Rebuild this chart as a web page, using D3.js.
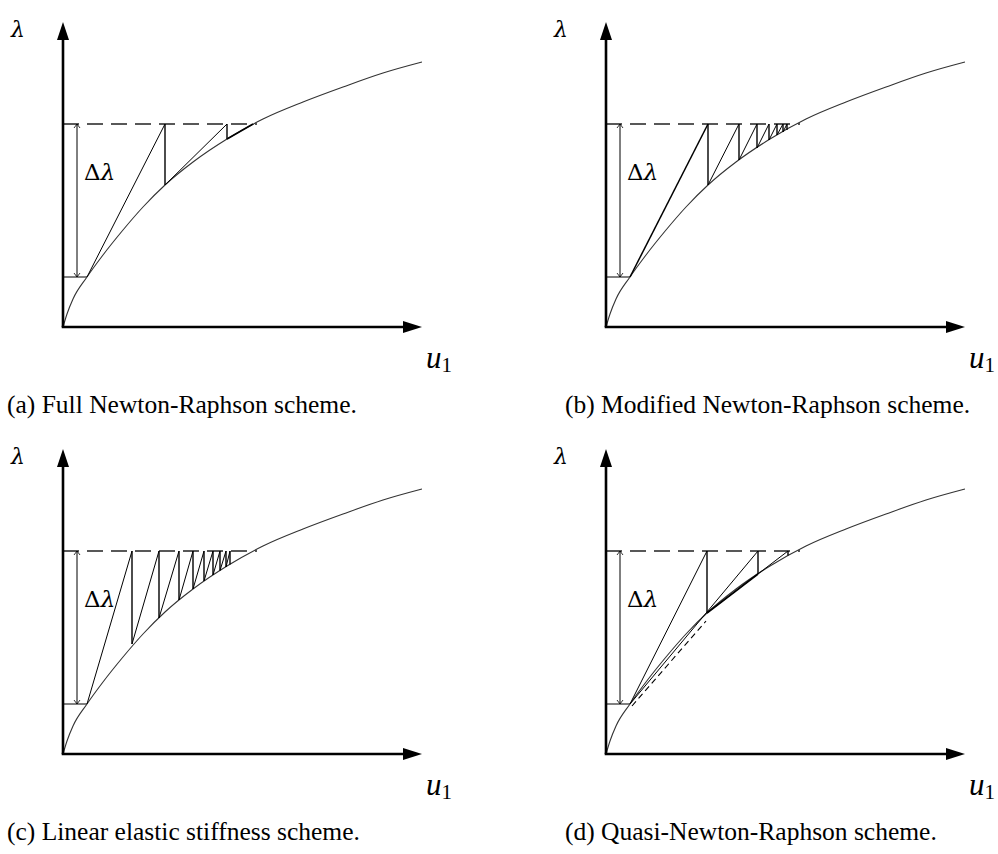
<!DOCTYPE html>
<html>
<head>
<meta charset="utf-8">
<script src="https://cdn.jsdelivr.net/npm/d3@7"></script>
<style>
  body { margin: 0; background: #fff; }
  text { font-family: "Liberation Serif", "Times New Roman", serif; fill: #000; }
  .greek { font-family: "DejaVu Serif", serif; }
</style>
</head>
<body>
<div id="fig"></div>
<script>
// load-displacement curve, sampled off the figure (u1, lambda)
var curveU = [0, 4, 10, 24, 40, 60, 80, 102, 130, 164, 200, 240, 280, 320, 359];
var curveL = [0, 13, 28, 50, 72, 97, 120, 142, 165, 188, 208, 225, 240, 254, 265];

// load levels: start of step and target (dashed)
var levelLow = 50;
var levelHigh = 203;
var levelHighU = 194;   // where the dashed level meets the curve

// iterates on the curve for each scheme
var fullU = [24, 102, 164, 190];
var fullL = [50, 142, 188, 202.5];

var modU = [24, 102, 133, 151, 163, 171, 177, 181];
var modL = [50, 142, 167, 179, 187, 192, 195, 197];

var linU = [24, 69, 96, 116, 130, 141, 150, 157, 163, 167];
var linL = [50, 110, 136, 154, 165, 173, 179, 183.5, 187, 189.5];

var quasiU = [24, 101, 152, 182];
var quasiL = [50, 141, 180, 198.5];
var quasiDashU = [26, 100];
var quasiDashL = [48, 133];

var captions = [
  '(a) Full Newton-Raphson scheme.',
  '(b) Modified Newton-Raphson scheme.',
  '(c) Linear elastic stiffness scheme.',
  '(d) Quasi-Newton-Raphson scheme.'
];

var W = 998, H = 854;
var svg = d3.select('#fig').append('svg').attr('width', W).attr('height', H);

var panels = [
  { ox: 63,  oy: 327, capX: 7,   capY: 413, type: 'full' },
  { ox: 606, oy: 327, capX: 565, capY: 413, type: 'mod' },
  { ox: 63,  oy: 754, capX: 7,   capY: 840, type: 'lin' },
  { ox: 606, oy: 754, capX: 565, capY: 840, type: 'quasi' }
];

panels.forEach(function (p, i) {
  var g = svg.append('g');
  var x = d3.scaleLinear().domain([0, 359]).range([p.ox, p.ox + 359]);
  var y = d3.scaleLinear().domain([0, 305]).range([p.oy, p.oy - 305]);

  var line = d3.line().x(d => x(d[0])).y(d => y(d[1]));
  function seg(a, b, w, dash) {
    var s = g.append('path').attr('d', line([a, b]))
      .attr('fill', 'none').attr('stroke', '#000').attr('stroke-width', w || 1);
    if (dash) s.attr('stroke-dasharray', dash);
    return s;
  }

  // target load level (dashed) and start level
  seg([0, levelHigh], [levelHighU, levelHigh], 1.3, '16,8').attr('stroke', '#222');
  seg([0, levelLow], [curveU[3], levelLow], 1);

  // delta lambda double arrow
  var ax = x(14), yt = y(levelHigh), yb = y(levelLow);
  g.append('line').attr('x1', ax).attr('x2', ax).attr('y1', yt).attr('y2', yb)
    .attr('stroke', '#000').attr('stroke-width', 1);
  g.append('path').attr('d', `M${ax - 3},${yt + 4}L${ax},${yt}L${ax + 3},${yt + 4}M${ax - 3},${yb - 4}L${ax},${yb}L${ax + 3},${yb - 4}`)
    .attr('fill', 'none').attr('stroke', '#000').attr('stroke-width', 0.8);
  var dl = g.append('text').attr('class', 'greek').attr('x', x(21)).attr('y', y(147)).attr('font-size', 23);
  dl.append('tspan').text('Δ');
  dl.append('tspan').attr('font-style', 'italic').text('λ');

  // the curve
  var pts = curveU.map((u, k) => [u, curveL[k]]);
  g.append('path').attr('d', d3.line().x(d => x(d[0])).y(d => y(d[1])).curve(d3.curveMonotoneX)(pts))
    .attr('fill', 'none').attr('stroke', '#333').attr('stroke-width', 1.1);

  // iterations
  var U, L;
  if (p.type === 'full') { U = fullU; L = fullL; }
  if (p.type === 'mod') { U = modU; L = modL; }
  if (p.type === 'lin') { U = linU; L = linL; }
  if (p.type === 'quasi') { U = quasiU; L = quasiL; }

  for (var k = 0; k < U.length - 1; k++) {
    var from = [U[k], L[k]];
    if (p.type === 'quasi' && k > 0) from = [U[k - 1], L[k - 1]];
    var wDiag = 1;
    if (p.type === 'mod' && k === 0) wDiag = 1.5;
    if (p.type === 'full' && k === 2) wDiag = 1.6;
    seg(from, [U[k + 1], levelHigh], wDiag);
    seg([U[k + 1], levelHigh], [U[k + 1], L[k + 1]], 1.4);
  }
  if (p.type === 'quasi') {
    seg([quasiDashU[0], quasiDashL[0]], [quasiDashU[1], quasiDashL[1]], 1.1, '6,4');
    seg([U[1], L[1]], [U[2], L[2]], 1.6);
  }

  // axes with arrowheads
  g.append('line').attr('x1', x(0)).attr('y1', y(0)).attr('x2', x(0)).attr('y2', y(290))
    .attr('stroke', '#000').attr('stroke-width', 2.6);
  g.append('line').attr('x1', x(0) - 1.3).attr('y1', y(0)).attr('x2', x(345)).attr('y2', y(0))
    .attr('stroke', '#000').attr('stroke-width', 2.6);
  g.append('path').attr('d', `M${x(0)},${y(305)}L${x(0) + 6},${y(287)}L${x(0) - 6},${y(287)}Z`).attr('fill', '#000');
  g.append('path').attr('d', `M${x(359)},${y(0)}L${x(340)},${y(0) - 6}L${x(340)},${y(0) + 6}Z`).attr('fill', '#000');

  // axis labels
  g.append('text').attr('class', 'greek').attr('x', p.ox - 52).attr('y', p.oy - 290).attr('font-size', 22)
    .attr('font-style', 'italic').text('λ');
  var ul = g.append('text').attr('x', p.ox + 363).attr('y', p.oy + 41).attr('font-size', 31);
  ul.append('tspan').attr('font-style', 'italic').text('u');
  ul.append('tspan').attr('font-size', 21).attr('dy', 4).text('1');

  // caption
  svg.append('text').attr('x', p.capX).attr('y', p.capY).attr('font-size', 25.5).text(captions[i]);
});
</script>
</body>
</html>
